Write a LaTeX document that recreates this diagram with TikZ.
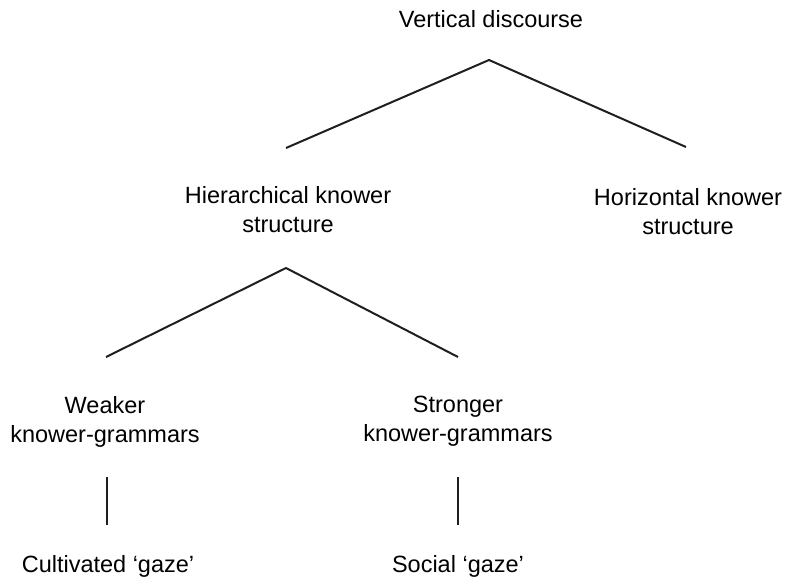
\documentclass[tikz,border=0pt]{standalone}
\usepackage{fontspec}
\setmainfont{Liberation Sans}
\begin{document}
\begin{tikzpicture}[x=1pt,y=-1pt,
  lbl/.style={align=center,inner sep=0pt,anchor=base,font=\fontsize{23.5}{28.5}\selectfont},
  branch/.style={line width=2pt,line cap=butt,line join=miter,color=black!88}]
\useasboundingbox (0,0) rectangle (786,576);
\node[lbl] (vd) at (491,27) {Vertical discourse};
\node[lbl] (hier) at (288,232) {Hierarchical knower\\structure};
\node[lbl] (hor) at (688,234) {Horizontal knower\\structure};
\node[lbl] (weak) at (105,442) {Weaker\\knower-grammars};
\node[lbl] (strong) at (458,441) {Stronger\\knower-grammars};
\node[lbl] (cult) at (108,572) {Cultivated `gaze'};
\node[lbl] (soc) at (458,572) {Social `gaze'};
\coordinate (a1) at (489,60);
\coordinate (a1l) at (286,148);
\coordinate (a1r) at (686,147);
\coordinate (a2) at (286,268);
\coordinate (a2l) at (106,357);
\coordinate (a2r) at (458,357);
\coordinate (v1t) at (107,477);
\coordinate (v1b) at (107,525);
\coordinate (v2t) at (458,477);
\coordinate (v2b) at (458,525);
\draw[branch] (a1l) -- (a1) -- (a1r);
\draw[branch] (a2l) -- (a2) -- (a2r);
\draw[branch] (v1t) -- (v1b);
\draw[branch] (v2t) -- (v2b);
\end{tikzpicture}
\end{document}
